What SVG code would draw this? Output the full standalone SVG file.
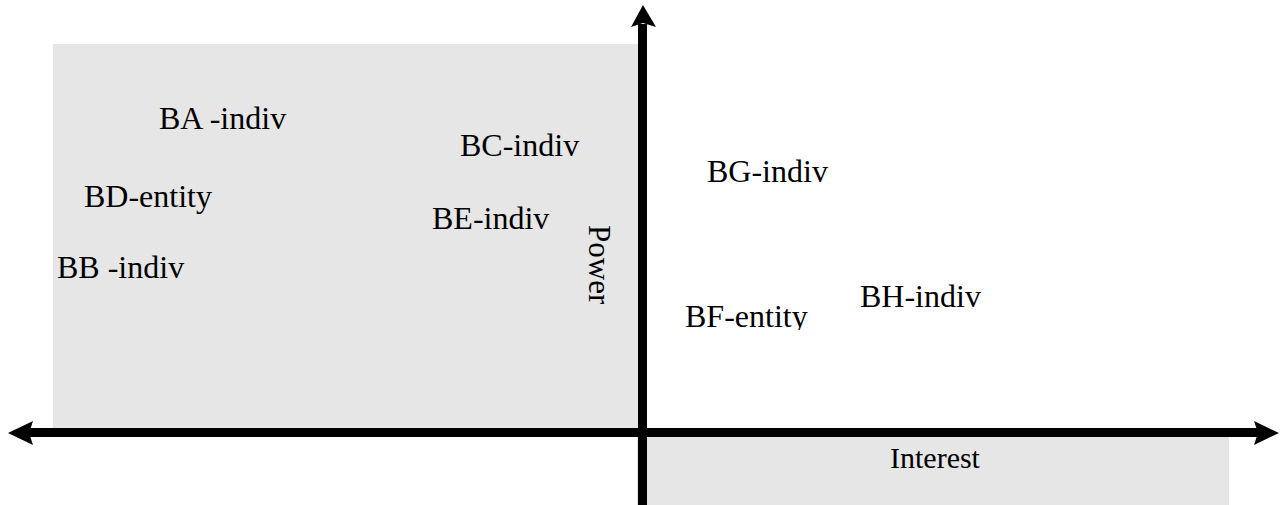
<svg xmlns="http://www.w3.org/2000/svg" width="1285" height="505" viewBox="0 0 1285 505">
  <style>
    .quad { fill: #e6e6e6; }
    .lbl { font-family: "Liberation Serif", "Times New Roman", serif; font-size: 32px; fill: #000; }
    .axis { stroke: #000; stroke-width: 9; fill: none; }
    .head { fill: #000; }
  </style>
  <defs>
    <clipPath id="clipBF">
      <rect x="600" y="280" width="300" height="50"/>
    </clipPath>
  </defs>

  <!-- shaded quadrants -->
  <g id="quadrants">
    <rect class="quad" x="53" y="44" width="585" height="385"/>
    <rect class="quad" x="637" y="436" width="592" height="69"/>
  </g>

  <!-- axes -->
  <g id="connectors">
    <line class="axis" x1="28" y1="432.5" x2="1258" y2="432.5"/>
    <line class="axis" x1="642.5" y1="24" x2="642.5" y2="505"/>
    <polygon class="head" points="8,433 33,421 29,433 33,445"/>
    <polygon class="head" points="1279,433 1254,421 1258,433 1254,445"/>
    <polygon class="head" points="643,5 631,27 643,23 656,27"/>
  </g>

  <!-- stakeholders -->
  <g id="BA"><text class="lbl" x="159" y="129">BA -indiv</text></g>
  <g id="BD"><text class="lbl" x="84" y="207">BD-entity</text></g>
  <g id="BB"><text class="lbl" x="57" y="278">BB -indiv</text></g>
  <g id="BC"><text class="lbl" x="460" y="156">BC-indiv</text></g>
  <g id="BE"><text class="lbl" x="432" y="229">BE-indiv</text></g>
  <g id="BG"><text class="lbl" x="707" y="182">BG-indiv</text></g>
  <g id="BF"><text class="lbl" x="685" y="327" clip-path="url(#clipBF)">BF-entity</text></g>
  <g id="BH"><text class="lbl" x="860" y="307">BH-indiv</text></g>

  <!-- axis titles -->
  <g id="power"><text class="lbl" transform="translate(589,225) rotate(90)" style="font-size:31px">Power</text></g>
  <g id="interest"><text class="lbl" x="890" y="468" style="font-size:30px">Interest</text></g>
</svg>
